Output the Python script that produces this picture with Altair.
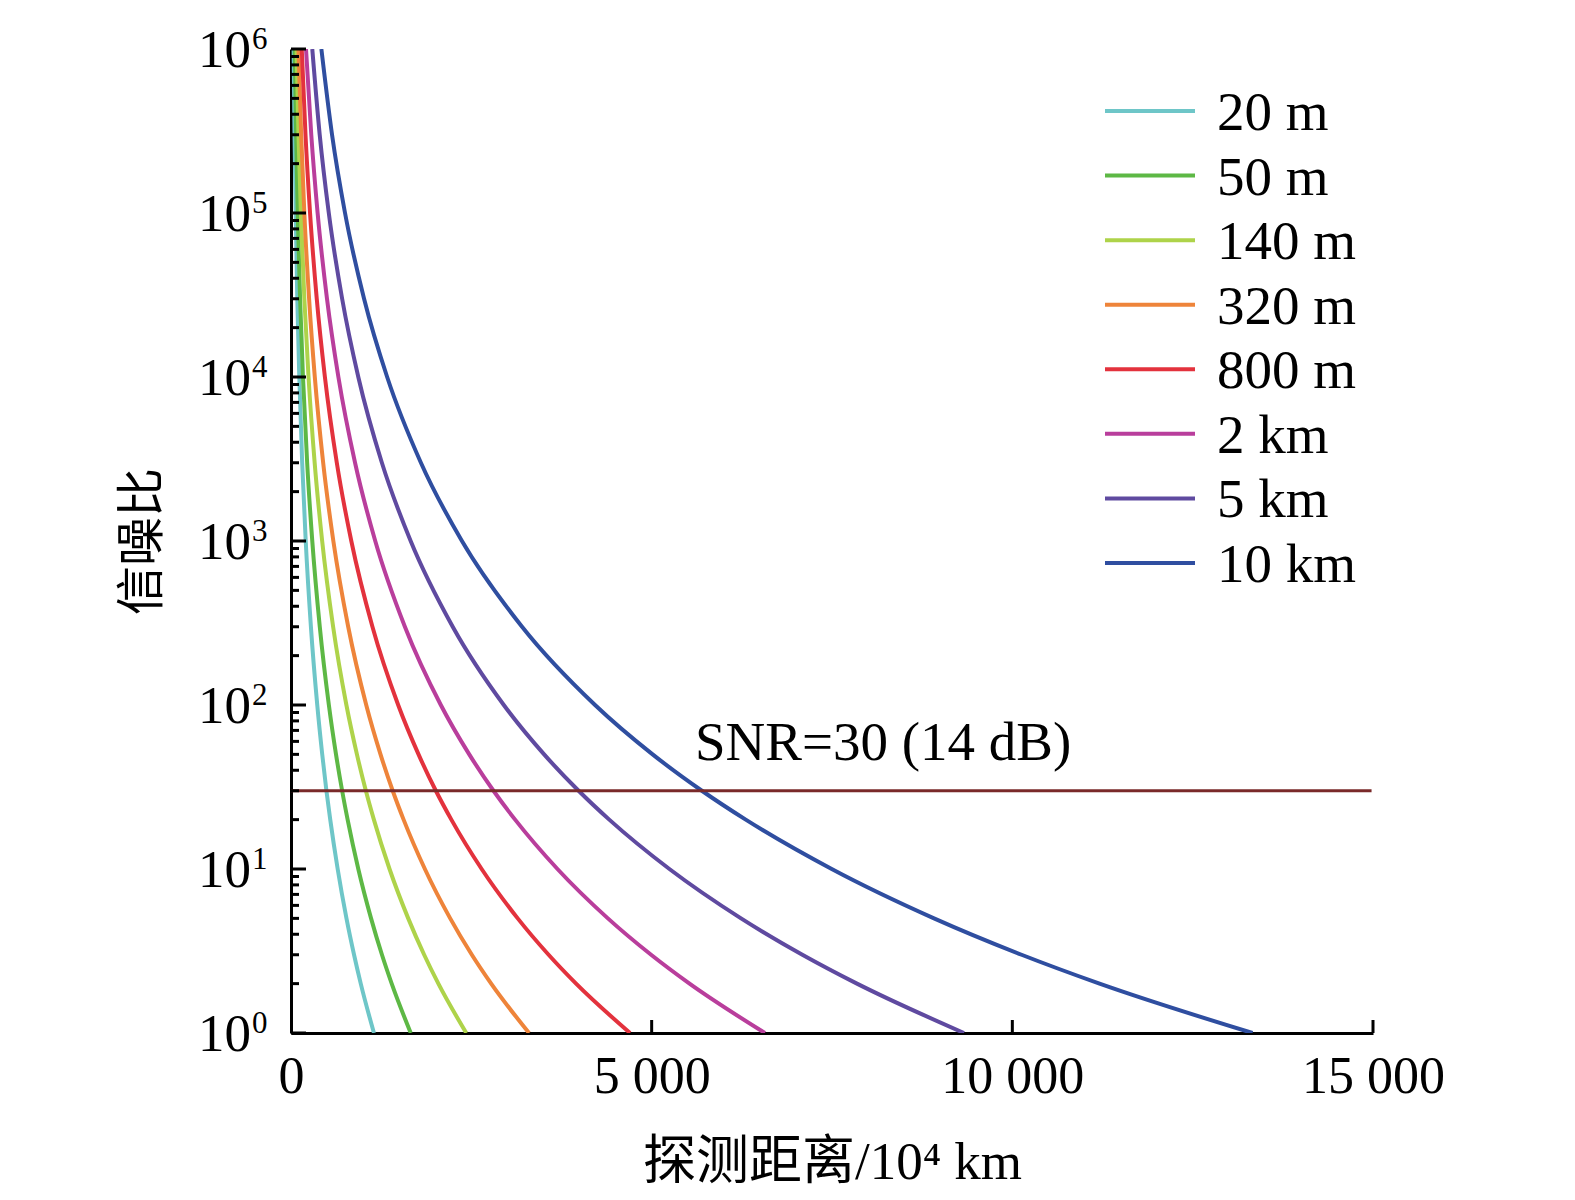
import altair as alt
import pandas as pd

SERIF = "Liberation Serif, Noto Sans CJK SC"

series = ["20 m", "50 m", "140 m", "320 m", "800 m", "2 km", "5 km", "10 km"]
colors = ["#6EC6C8", "#5DB845", "#AED34A", "#EE843A", "#E3323D", "#B93E9C", "#5F4AA0", "#2F4EA0"]

# SNR levels at which the curve distances were read
snr_levels = [1, 2, 3, 5, 10, 20, 30, 50, 100, 300, 1000, 3000, 1e4, 3e4, 1e5, 3e5, 1e6]

# distance (10^4 km) at the SNR levels above
d_20m = [1150, 967, 874, 769, 647, 544, 491, 433, 364, 276, 204, 155, 115, 87, 65, 49, 36]
d_50m = [1660, 1396, 1261, 1110, 933, 785, 709, 624, 525, 399, 295, 224, 166, 126, 93, 71, 52]
d_140m = [2430, 2043, 1846, 1625, 1366, 1149, 1038, 914, 768, 584, 432, 328, 243, 185, 137, 104, 77]
d_320m = [3300, 2775, 2507, 2207, 1856, 1561, 1410, 1241, 1043, 793, 587, 446, 330, 251, 185, 141, 104]
d_800m = [4700, 3952, 3571, 3143, 2643, 2223, 2008, 1768, 1486, 1129, 836, 635, 470, 357, 264, 201, 149]
d_2km = [6570, 5525, 4992, 4393, 3694, 3107, 2807, 2471, 2077, 1579, 1168, 888, 657, 499, 369, 281, 208]
d_5km = [9330, 7846, 7089, 6239, 5246, 4412, 3987, 3509, 2950, 2242, 1659, 1260, 933, 709, 524, 398, 295]
d_10km = [13330, 11209, 10128, 8914, 7496, 6304, 5696, 5013, 4215, 3203, 2370, 1801, 1333, 1013, 749, 569, 421]

all_d = [d_20m, d_50m, d_140m, d_320m, d_800m, d_2km, d_5km, d_10km]

rows = []
for name, ds in zip(series, all_d):
    for s, d in zip(snr_levels, ds):
        rows.append({"series": name, "dist": d, "snr": s})
df = pd.DataFrame(rows)

snr_threshold = 30
snr_label = "SNR=30 (14 dB)"
x_ticks = [0, 5000, 10000, 15000]
y_major = [1, 10, 100, 1000, 10000, 100000, 1000000]
y_exponents = ["0", "1", "2", "3", "4", "5", "6"]
y_minor = [m * 10 ** k for k in range(6) for m in range(2, 10)]

W, H = 1082, 984

xscale = alt.Scale(domain=[0, 15000], nice=False, zero=False)
yscale = alt.Scale(type="log", domain=[1, 1e6], nice=False)
cscale = alt.Scale(domain=series, range=colors)

x_axis = alt.Axis(
    values=x_ticks, ticks=False, grid=False,
    labelExpr="replace(format(datum.value, ','), ',', ' ')",
    labelFont=SERIF, labelFontSize=52, labelColor="black", labelPadding=18,
    labelFlush=False, labelOverlap=False,
    domainColor="black", domainWidth=3,
    title="探测距离/10⁴ km", titleFont=SERIF, titleFontSize=53,
    titleFontWeight="normal", titleColor="black", titlePadding=34)
y_axis = alt.Axis(
    values=y_major, ticks=False, grid=False, labels=False,
    domainColor="black", domainWidth=3,
    title="信噪比", titleFont=SERIF, titleFontSize=49,
    titleFontWeight="normal", titleColor="black", titlePadding=124)

lines = alt.Chart(df).mark_line(strokeWidth=4, clip=True, interpolate="monotone").encode(
    x=alt.X("dist:Q", scale=xscale, axis=x_axis),
    y=alt.Y("snr:Q", scale=yscale, axis=y_axis),
    color=alt.Color("series:N", sort=series, scale=cscale, legend=None),
)

thr_df = pd.DataFrame({"dist": [0], "dist2": [14980], "snr": [snr_threshold]})
thr = alt.Chart(thr_df).mark_rule(color="#7A2A2A", strokeWidth=3).encode(
    x=alt.X("dist:Q", scale=xscale), x2="dist2:Q",
    y=alt.Y("snr:Q", scale=yscale))

lbl_df = pd.DataFrame({"dist": [5601], "snr": [46], "t": [snr_label]})
lbl = alt.Chart(lbl_df).mark_text(align="left", baseline="alphabetic", font=SERIF,
                                  fontSize=55, color="black").encode(
    x=alt.X("dist:Q", scale=xscale),
    y=alt.Y("snr:Q", scale=yscale), text="t:N")

# y tick labels "10" with superscript exponent
ylab_df = pd.DataFrame({"snr": y_major, "base": ["10"] * len(y_major), "exp": y_exponents})
ylab_base = alt.Chart(ylab_df).mark_text(align="right", baseline="alphabetic", font=SERIF,
                                         fontSize=53, color="black", dy=18).encode(
    y=alt.Y("snr:Q", scale=yscale), x=alt.value(-40), text="base:N")
ylab_exp = alt.Chart(ylab_df).mark_text(align="left", baseline="alphabetic", font=SERIF,
                                        fontSize=31, color="black", dy=0).encode(
    y=alt.Y("snr:Q", scale=yscale), x=alt.value(-39), text="exp:N")

maj_df = pd.DataFrame({"snr": y_major})
maj = alt.Chart(maj_df).mark_rule(color="black", strokeWidth=3).encode(
    y=alt.Y("snr:Q", scale=yscale), x=alt.value(0), x2=alt.value(15))
min_df = pd.DataFrame({"snr": y_minor})
mnr = alt.Chart(min_df).mark_rule(color="black", strokeWidth=3).encode(
    y=alt.Y("snr:Q", scale=yscale), x=alt.value(0), x2=alt.value(8))
xt_df = pd.DataFrame({"dist": x_ticks[1:]})
xt = alt.Chart(xt_df).mark_rule(color="black", strokeWidth=3).encode(
    x=alt.X("dist:Q", scale=xscale), y=alt.value(H), y2=alt.value(H - 13))

plot = alt.layer(lines, thr, lbl, ylab_base, ylab_exp, maj, mnr, xt)

# legend drawn as rule + text rows on a point scale
leg_df = pd.DataFrame({"series": series})
leg_y = alt.Y("series:N", sort=series, axis=None,
              scale=alt.Scale(type="point", domain=series, range=[62, 514], padding=0))
leg_line = alt.Chart(leg_df).mark_rule(strokeWidth=4).encode(
    y=leg_y, x=alt.value(814), x2=alt.value(904),
    color=alt.Color("series:N", sort=series, scale=cscale, legend=None))
leg_text = alt.Chart(leg_df).mark_text(align="left", baseline="middle", font=SERIF,
                                       fontSize=55, color="black", dy=2).encode(
    y=leg_y, x=alt.value(926), text="series:N")
legend = alt.layer(leg_line, leg_text)

chart = alt.layer(plot, legend).resolve_scale(y="independent").properties(
    width=W, height=H,
    autosize=alt.AutoSizeParams(type="none"),
    padding={"left": 283, "top": 41, "right": 170, "bottom": 155},
).configure(background="white").configure_view(stroke=None)

chart.save("out.html", embed_options={"renderer": "svg", "actions": False})
